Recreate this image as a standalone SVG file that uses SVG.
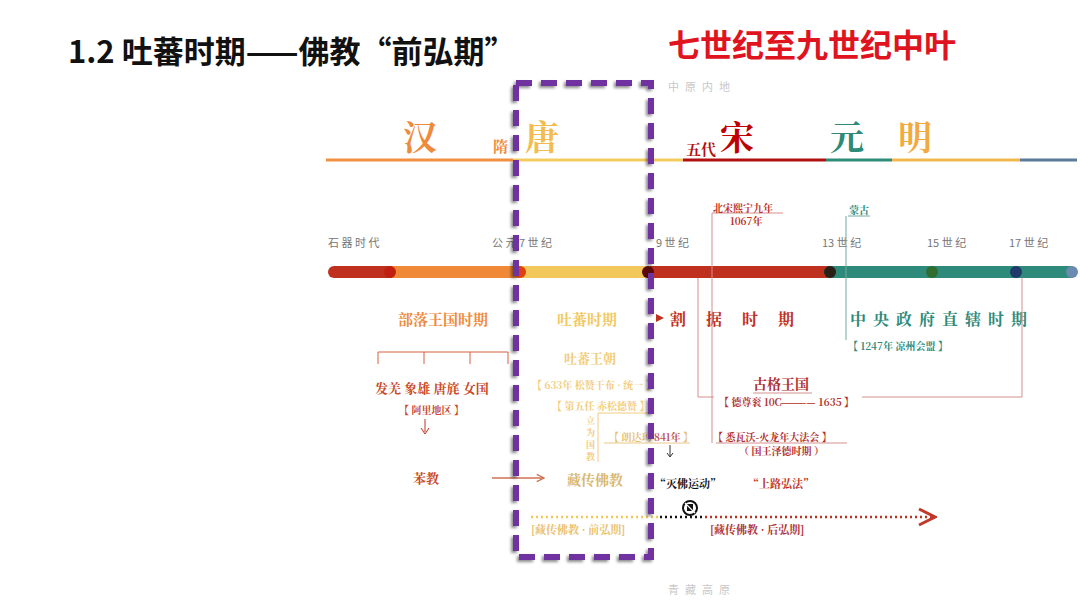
<svg xmlns="http://www.w3.org/2000/svg" width="1080" height="609" viewBox="0 0 1080 609">
<style>
.s{font-family:"Noto Serif CJK SC","Noto Sans CJK SC",serif;font-weight:bold}
.g{font-family:"Noto Sans CJK SC",sans-serif;fill:#777;font-size:11px}
.ln{fill:none;stroke-width:1}
</style>
<defs>
<filter id="sh" x="-10%" y="-10%" width="120%" height="120%"><feDropShadow dx="-2" dy="2" stdDeviation="1.5" flood-color="#000" flood-opacity="0.45"/></filter>
<marker id="ar" viewBox="0 0 10 10" refX="9" refY="5" markerWidth="8" markerHeight="8" orient="auto"><path d="M1 1L9 5L1 9" fill="none" stroke="#c0392b" stroke-width="1.5"/></marker>
<marker id="ar2" viewBox="0 0 10 10" refX="9" refY="5" markerWidth="7" markerHeight="7" orient="auto"><path d="M1 1L9 5L1 9" fill="none" stroke="#d07050" stroke-width="1.3"/></marker>
</defs>
<rect width="1080" height="609" fill="#fff"/>
<text x="68" y="63" font-family="Noto Sans CJK SC,sans-serif" font-weight="bold" font-size="31" fill="#111">1.2 吐蕃时期——佛教“前弘期”</text>
<text x="668" y="57" font-family="Noto Sans CJK SC,sans-serif" font-weight="bold" font-size="32" fill="#e0141e">七世纪至九世纪中叶</text>
<text x="668" y="91" class="g" style="fill:#c8c8c8;letter-spacing:6px" font-size="13">中原内地</text>
<text x="668" y="594" class="g" style="fill:#c8c8c8;letter-spacing:6px" font-size="13">青藏高原</text>
<g id="dynasty">
<line x1="326" y1="160" x2="513" y2="160" stroke="#f09040" stroke-width="3"/>
<line x1="513" y1="160" x2="683" y2="160" stroke="#f2cc60" stroke-width="3"/>
<line x1="683" y1="160" x2="826" y2="160" stroke="#b01010" stroke-width="3"/>
<line x1="826" y1="160" x2="892" y2="160" stroke="#2e8b7a" stroke-width="3"/>
<line x1="892" y1="160" x2="1020" y2="160" stroke="#f2b850" stroke-width="3"/>
<line x1="1020" y1="160" x2="1077" y2="160" stroke="#5a7a9a" stroke-width="3"/>
<text x="403" y="150" class="s" font-size="34" fill="#ef8a3c">汉</text>
<text x="493" y="152" class="s" font-size="15" fill="#ef8a3c">隋</text>
<text x="525" y="150" class="s" font-size="34" fill="#f2bc50">唐</text>
<text x="686" y="155" class="s" font-size="15" fill="#b01010">五代</text>
<text x="720" y="150" class="s" font-size="34" fill="#c00000">宋</text>
<text x="830" y="150" class="s" font-size="34" fill="#2e8b7a">元</text>
<text x="898" y="150" class="s" font-size="34" fill="#f2aa40">明</text>
</g>
<g id="timeline">
<line x1="334" y1="272" x2="392" y2="272" stroke="#c0301e" stroke-width="12" stroke-linecap="round"/>
<line x1="392" y1="272" x2="520" y2="272" stroke="#f08a38" stroke-width="12"/>
<line x1="520" y1="272" x2="650" y2="272" stroke="#f2c85a" stroke-width="12"/>
<line x1="650" y1="272" x2="830" y2="272" stroke="#c0301e" stroke-width="12"/>
<line x1="830" y1="272" x2="1070" y2="272" stroke="#2e8a7a" stroke-width="12" stroke-linecap="round"/>
<circle cx="390" cy="272" r="6" fill="#c02010"/>
<circle cx="520" cy="272" r="6" fill="#e04010"/>
<circle cx="648" cy="272" r="6" fill="#5a0a0a"/>
<circle cx="830" cy="272" r="6" fill="#2a2018"/>
<circle cx="932" cy="272" r="6" fill="#2e6e30"/>
<circle cx="1016" cy="272" r="6" fill="#203a6a"/>
<circle cx="1072" cy="272" r="6" fill="#6a8ab0"/>
<text x="328" y="247" class="g">石 器 时 代</text>
<text x="492" y="247" class="g">公 元 7 世 纪</text>
<text x="656" y="247" class="g">9 世 纪</text>
<text x="822" y="247" class="g">13 世 纪</text>
<text x="927" y="247" class="g">15 世 纪</text>
<text x="1009" y="247" class="g">17 世 纪</text>
</g>
<g id="periods">
<text x="398" y="325" class="s" font-size="15" fill="#ef8a3c">部落王国时期</text>
<text x="557" y="325" class="s" font-size="15" fill="#f2c860">吐蕃时期</text>
<path d="M656 314L664 318L656 322Z" fill="#c0301e"/>
<text x="670" y="325" class="s" font-size="16" fill="#c0301e" style="letter-spacing:20px">割据时期</text>
<text x="850" y="325" class="s" font-size="16" fill="#2e8a7a" style="letter-spacing:7px">中央政府直辖时期</text>
</g>
<g id="connectors">
<path class="ln" d="M378 364V352H508V364M424 352V364M470 352V364" stroke="#d86040"/>
<line x1="425" y1="419" x2="425" y2="432" stroke="#c0301e"/>
<path d="M421 428L425 434L429 428" fill="none" stroke="#c0301e"/>
<line x1="492" y1="478" x2="544" y2="478" stroke="#d07050" stroke-width="1.3" marker-end="url(#ar2)"/>
<path class="ln" d="M598 462V413H650" stroke="#f2cc80"/>
<line x1="604" y1="443" x2="690" y2="443" stroke="#e8c888"/>
<line x1="670" y1="445" x2="670" y2="456" stroke="#333"/>
<path d="M667 453L670 457L673 453" fill="none" stroke="#333"/>
<path class="ln" d="M698 278V397H714" stroke="#d49090"/>
<path class="ln" d="M712 213H783M712 213V443" stroke="#d49090"/>
<path class="ln" d="M848 216H870M846 216V340" stroke="#70a8a0"/>
<path class="ln" d="M862 397H1022V278" stroke="#d49090"/>
<line x1="716" y1="443" x2="847" y2="443" stroke="#d49090"/>
<line x1="753" y1="393" x2="812" y2="393" stroke="#d49090"/>
<line x1="531" y1="517" x2="660" y2="517" stroke="#f2c85a" stroke-width="2.5" stroke-dasharray="2 3"/>
<line x1="660" y1="517" x2="705" y2="517" stroke="#111" stroke-width="2.5" stroke-dasharray="2 3"/>
<line x1="705" y1="517" x2="935" y2="517" stroke="#c0301e" stroke-width="2.5" stroke-dasharray="2 3" marker-end="url(#ar)"/>
</g>
<g id="texts">
<text x="375" y="393" class="s" font-size="13" fill="#c84a28">发羌  象雄  唐旄  女国</text>
<text x="399" y="414" class="s" font-size="10" fill="#c84a28">【 阿里地区 】</text>
<text x="413" y="483" class="s" font-size="13" fill="#c84a28">苯教</text>
<text x="564" y="363" class="s" font-size="13" fill="#f2cc7a">吐蕃王朝</text>
<text x="532" y="389" class="s" font-size="10" fill="#f2cc7a">【 633年 松赞干布 · 统一 】</text>
<text x="552" y="410" class="s" font-size="10" fill="#f2cc7a">【 第五任 赤松德赞 】</text>
<text x="586" y="424" class="s" font-size="9" fill="#f2cc7a">立</text>
<text x="586" y="436" class="s" font-size="9" fill="#f2cc7a">为</text>
<text x="586" y="448" class="s" font-size="9" fill="#f2cc7a">国</text>
<text x="586" y="460" class="s" font-size="9" fill="#f2cc7a">教</text>
<text x="609" y="441" class="s" font-size="10" fill="#e8c070">【 朗达玛 <tspan fill="#c05050">841年</tspan> 】</text>
<text x="567" y="485" class="s" font-size="14" fill="#d8b870">藏传佛教</text>
<text x="655" y="488" class="s" font-size="11" fill="#111">“灭佛运动”</text>
<text x="748" y="488" class="s" font-size="11" fill="#c0301e">“上路弘法”</text>
<g id="icon"><circle cx="690" cy="508" r="7" fill="#fff" stroke="#111" stroke-width="2"/><rect x="687" y="504" width="6" height="7" fill="#111"/><line x1="685" y1="503" x2="695" y2="513" stroke="#fff" stroke-width="1.2"/></g>
<text x="531" y="534" class="s" font-size="11" fill="#e8c070">[藏传佛教 ·  前弘期]</text>
<text x="710" y="534" class="s" font-size="11" fill="#b03030">[藏传佛教 ·  后弘期]</text>
<text x="713" y="212" class="s" font-size="10" fill="#c0301e">北宋熙宁九年</text>
<text x="730" y="225" class="s" font-size="10" fill="#c0301e">1067年</text>
<text x="849" y="214" class="s" font-size="10" fill="#2e8a7a">蒙古</text>
<text x="848" y="350" class="s" font-size="10" fill="#2e8a7a">【 1247年 凉州会盟 】</text>
<text x="753" y="389" class="s" font-size="14" fill="#b03030">古格王国</text>
<text x="719" y="406" class="s" font-size="10" fill="#b03030">【 德尊衮 10C <tspan dx="-4">————</tspan> 1635 】</text>
<text x="713" y="441" class="s" font-size="10" fill="#b03030">【 悉瓦沃-火龙年大法会 】</text>
<text x="739" y="455" class="s" font-size="10" fill="#b03030">（ 国王泽德时期 ）</text>
</g>
<rect id="highlight" x="516" y="83" width="135" height="474" fill="none" stroke="#7030a0" stroke-width="6" stroke-dasharray="16 9" filter="url(#sh)"/>
</svg>
